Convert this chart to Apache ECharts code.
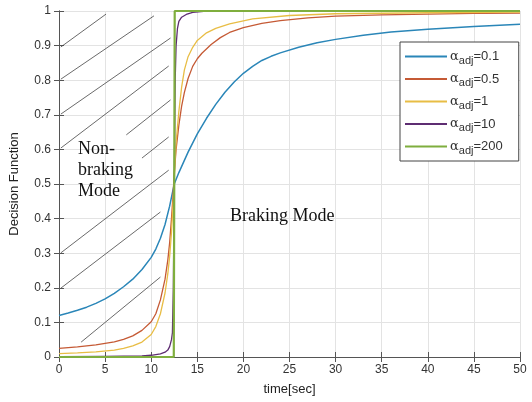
<!DOCTYPE html>
<html>
<head>
<meta charset="utf-8">
<script src="https://cdn.jsdelivr.net/npm/echarts@6/dist/echarts.min.js"></script>
<style>
  html, body { margin: 0; padding: 0; background: #fff; }
  #chart { width: 532px; height: 402px; }
</style>
</head>
<body>
<div id="chart"></div>
<script>
// 数据：各曲线 [time, value]
var alpha01 = [[0,0.12],[1,0.127],[2,0.135],[3,0.144],[4,0.155],[5,0.168],[6,0.184],[7,0.203],[8,0.225],[9,0.253],[10,0.288],[10.5,0.312],[11,0.343],[11.5,0.383],[12,0.436],[12.5,0.5],
  [13,0.533],[14,0.592],[15,0.645],[16,0.69],[17,0.73],[18,0.765],[19,0.795],[20,0.82],[21,0.84],[22,0.857],[23,0.869],[24,0.879],[26,0.895],[28,0.908],[30,0.918],[33,0.93],[36,0.939],[40,0.947],[45,0.955],[50,0.962]];
var alpha05 = [[0,0.025],[2,0.029],[4,0.035],[6,0.044],[7,0.051],[8,0.061],[9,0.077],[10,0.102],[10.5,0.125],[11,0.165],[11.5,0.225],[11.8,0.28],[12,0.33],[12.2,0.4],[12.35,0.46],[12.5,0.53],[12.7,0.6],[13,0.67],
  [13.3,0.725],[13.6,0.765],[14,0.805],[14.5,0.84],[15,0.862],[15.5,0.878],[16.5,0.903],[17.5,0.923],[18.5,0.938],[20,0.952],[22,0.964],[24,0.972],[27,0.98],[30,0.985],[35,0.989],[40,0.991],[45,0.993],[50,0.994]];
var alpha1 = [[0,0.01],[2,0.012],[4,0.015],[6,0.02],[7,0.025],[8,0.032],[9,0.043],[10,0.065],[10.5,0.088],[11,0.125],[11.5,0.185],[11.8,0.24],[12,0.29],[12.2,0.36],[12.35,0.43],[12.5,0.52],[12.7,0.62],[13,0.71],
  [13.3,0.78],[13.6,0.83],[14,0.868],[14.5,0.895],[15,0.915],[16,0.937],[17,0.95],[18.5,0.963],[21,0.977],[25,0.987],[30,0.992],[40,0.995],[50,0.997]];
var alpha10 = [[0,0.001],[5,0.002],[9,0.003],[10,0.005],[11,0.009],[11.5,0.014],[11.8,0.02],[12,0.03],[12.2,0.05],[12.3,0.07],[12.4,0.2],[12.5,0.5],[12.6,0.8],[12.7,0.9],[12.85,0.95],[13,0.97],[13.3,0.982],[13.8,0.99],[14.5,0.996],[16,1],[50,1]];
var alpha200 = [[0,0],[12.45,0],[12.5,0.5],[12.55,1],[50,1]];

var seriesNames = ['0.1', '0.5', '1', '10', '200'];
var xTicks = [0, 50, 5];
var yTicks = [0, 1, 0.1];

// 斜线阴影（非制动区）
var hatch = [
  [[0.2,0.896],[5.1,0.991]],
  [[0.2,0.803],[10.3,0.986]],
  [[0.2,0.702],[12.1,0.922]],
  [[0.2,0.604],[11.9,0.841]],
  [[7.3,0.642],[12.1,0.743]],
  [[9.0,0.575],[11.9,0.636]],
  [[0.2,0.301],[11.9,0.540]],
  [[0.2,0.199],[11.0,0.419]],
  [[2.4,0.043],[11.0,0.231]]
];

var colors = ['#2a86b8', '#c55a35', '#e8bd45', '#5e2d72', '#7fae3e'];
var widths = [1.5, 1.3, 1.3, 1.3, 2.2];
var dataList = [alpha01, alpha05, alpha1, alpha10, alpha200];

var chart = echarts.init(document.getElementById('chart'));

var series = [{
  name: 'hatch',
  type: 'lines',
  coordinateSystem: 'cartesian2d',
  silent: true,
  z: 1,
  lineStyle: { color: '#444', width: 0.8, opacity: 1 },
  data: hatch.map(function (c) { return { coords: c }; })
}];
for (var i = 0; i < dataList.length; i++) {
  series.push({
    name: seriesNames[i],
    type: 'line',
    data: dataList[i],
    symbol: 'none',
    showSymbol: false,
    smooth: false,
    z: 3 + i,
    lineStyle: { color: colors[i], width: widths[i] },
    itemStyle: { color: colors[i] }
  });
}

var axisCommon = {
  type: 'value',
  axisLine: { show: true, lineStyle: { color: '#555', width: 1 } },
  axisTick: { show: true, inside: true, length: 5, lineStyle: { color: '#555' } },
  splitLine: { show: false }
};

var option = {
  animation: false,
  grid: { left: 59, right: 12, top: 11, bottom: 45, containLabel: false },
  legend: {
    data: seriesNames,
    orient: 'vertical',
    left: 400,
    top: 42,
    width: 118,
    padding: [5, 16, 5, 5],
    icon: 'rect',
    itemWidth: 42,
    itemHeight: 2,
    itemGap: 3.5,
    borderColor: '#444',
    borderWidth: 1,
    backgroundColor: '#fff',
    formatter: function (n) { return '{a|α}{s|adj}{v|=' + n + '}'; },
    textStyle: {
      color: '#333',
      padding: [0, 0, 0, -2],
      rich: {
        a: { fontFamily: 'DejaVu Serif', fontSize: 13, color: '#333', lineHeight: 16 },
        s: { fontFamily: 'Arial, Liberation Sans', fontSize: 11, color: '#333', padding: [8, 0, 0, 0], lineHeight: 16 },
        v: { fontFamily: 'Arial, Liberation Sans', fontSize: 13, color: '#333', lineHeight: 16 }
      }
    }
  },
  xAxis: [
    echarts.util.merge({
      min: xTicks[0], max: xTicks[1], interval: xTicks[2],
      name: 'time[sec]', nameLocation: 'middle', nameGap: 26,
      nameTextStyle: { color: '#222', fontSize: 13, fontFamily: 'Arial, Liberation Sans' },
      axisLabel: { color: '#333', fontSize: 12, margin: 7, fontFamily: 'Arial, Liberation Sans' },
      splitLine: { show: true, lineStyle: { color: '#e3e3e3', width: 1 } }
    }, axisCommon, false),
    echarts.util.merge({
      position: 'top', min: xTicks[0], max: xTicks[1], interval: xTicks[2],
      axisLabel: { show: false }
    }, axisCommon, false)
  ],
  yAxis: [
    echarts.util.merge({
      min: yTicks[0], max: yTicks[1], interval: yTicks[2],
      name: 'Decision Function', nameLocation: 'middle', nameGap: 38, nameRotate: 90,
      nameTextStyle: { color: '#222', fontSize: 13, fontFamily: 'Arial, Liberation Sans' },
      axisLabel: { color: '#333', fontSize: 12, margin: 8, fontFamily: 'Arial, Liberation Sans' },
      splitLine: { show: true, lineStyle: { color: '#e3e3e3', width: 1 } }
    }, axisCommon, false),
    echarts.util.merge({
      position: 'right', min: yTicks[0], max: yTicks[1], interval: yTicks[2],
      axisLabel: { show: false }
    }, axisCommon, false)
  ],
  graphic: [
    {
      type: 'text', left: 78, top: 139, z: 10,
      style: { text: 'Non-\nbraking\nMode', fontFamily: 'Liberation Serif', fontSize: 18, lineHeight: 21, fill: '#111' }
    },
    {
      type: 'text', left: 230, top: 207, z: 10,
      style: { text: 'Braking Mode', fontFamily: 'Liberation Serif', fontSize: 18, fill: '#111' }
    }
  ],
  series: series
};

chart.setOption(option);
</script>
</body>
</html>
